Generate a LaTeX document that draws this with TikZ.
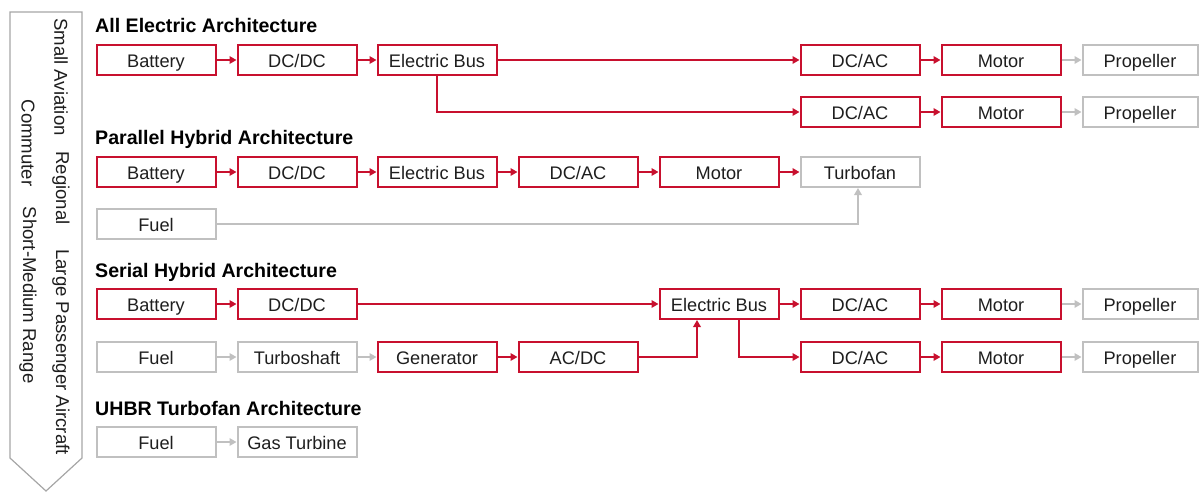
\documentclass[tikz,border=0pt]{standalone}
\usepackage{fontspec}
\setmainfont{Liberation Sans}
\usetikzlibrary{arrows.meta}
\definecolor{myred}{RGB}{200,16,46}
\definecolor{mygray}{RGB}{192,192,192}
\definecolor{edgegray}{RGB}{166,166,166}
\definecolor{txt}{RGB}{30,30,30}
\begin{document}
\begin{tikzpicture}[x=1pt,y=-1pt,
 box/.style={draw, line width=2pt, minimum width=119pt, minimum height=30pt, inner sep=0pt, text height=14.6pt, text depth=0pt, font=\fontsize{18.2}{20}\selectfont, text=txt},
 rbox/.style={box, draw=myred},
 gbox/.style={box, draw=mygray},
 pbox/.style={gbox, minimum width=115pt},
 rarr/.style={draw=myred, line width=2pt, -{Triangle[length=7pt,width=7.5pt]}},
 garr/.style={draw=mygray, line width=2pt, -{Triangle[length=7pt,width=7.5pt]}},
 title/.style={font=\fontsize{19.6}{22}\selectfont\bfseries, anchor=west, inner sep=0pt, text=black},
 side/.style={rotate=-90, font=\fontsize{18.6}{20}\selectfont, text=txt, inner sep=0pt}
]
\useasboundingbox (0,0) rectangle (1199,493);

% left category arrow
\draw[draw=edgegray, line width=1.2pt] (10,12) -- (82,12) -- (82,458) -- (46,491) -- (10,458) -- cycle;
\node[side] (sa) at (61,77) {Small Aviation};
\node[side] (rg) at (61,188) {Regional};
\node[side] (lp) at (61,352) {Large Passenger Aircraft};
\node[side] (cm) at (28,143) {Commuter};
\node[side] (sm) at (28,295) {Short-Medium Range};

% All Electric
\node[title] (t1) at (95,25) {All Electric Architecture};
\node[rbox] (a1) at (156,60) {Battery};
\node[rbox] (a2) at (297,60) {DC/DC};
\node[rbox] (a3) at (437,60) {Electric Bus};
\node[rbox] (a4) at (860,60) {DC/AC};
\node[rbox] (a5) at (1001,60) {Motor};
\node[pbox] (a6) at (1140,60) {Propeller};
\node[rbox] (b4) at (860,112) {DC/AC};
\node[rbox] (b5) at (1001,112) {Motor};
\node[pbox] (b6) at (1140,112) {Propeller};
\draw[rarr] (a1) -- (a2);
\draw[rarr] (a2) -- (a3);
\draw[rarr] (a3) -- (a4);
\draw[rarr] (a4) -- (a5);
\draw[garr] (a5) -- (a6);
\draw[rarr] (a3.south) |- (b4.west);
\draw[rarr] (b4) -- (b5);
\draw[garr] (b5) -- (b6);

% Parallel Hybrid
\node[title] (t2) at (95,139) {Parallel Hybrid Architecture};
\node[rbox] (p1) at (156,172) {Battery};
\node[rbox] (p2) at (297,172) {DC/DC};
\node[rbox] (p3) at (437,172) {Electric Bus};
\node[rbox] (p4) at (578,172) {DC/AC};
\node[rbox] (p5) at (719,172) {Motor};
\node[gbox] (p6) at (860,172) {Turbofan};
\node[gbox] (pf) at (156,224) {Fuel};
\draw[rarr] (p1) -- (p2);
\draw[rarr] (p2) -- (p3);
\draw[rarr] (p3) -- (p4);
\draw[rarr] (p4) -- (p5);
\draw[rarr] (p5) -- (p6);
\draw[garr] (pf.east) -| ([xshift=-2pt]p6.south);

% Serial Hybrid
\node[title] (t3) at (95,272) {Serial Hybrid Architecture};
\node[rbox] (s1) at (156,304) {Battery};
\node[rbox] (s2) at (297,304) {DC/DC};
\node[rbox] (s3) at (719,304) {Electric Bus};
\node[rbox] (s4) at (860,304) {DC/AC};
\node[rbox] (s5) at (1001,304) {Motor};
\node[pbox] (s6) at (1140,304) {Propeller};
\node[gbox] (f1) at (156,357) {Fuel};
\node[gbox] (f2) at (297,357) {Turboshaft};
\node[rbox] (f3) at (437,357) {Generator};
\node[rbox] (f4) at (578,357) {AC/DC};
\node[rbox] (d4) at (860,357) {DC/AC};
\node[rbox] (d5) at (1001,357) {Motor};
\node[pbox] (d6) at (1140,357) {Propeller};
\draw[rarr] (s1) -- (s2);
\draw[rarr] (s2) -- (s3);
\draw[rarr] (s3) -- (s4);
\draw[rarr] (s4) -- (s5);
\draw[garr] (s5) -- (s6);
\draw[garr] (f1) -- (f2);
\draw[garr] (f2) -- (f3);
\draw[rarr] (f3) -- (f4);
\draw[rarr] (f4.east) -| ([xshift=-22pt]s3.south);
\draw[rarr] ([xshift=20pt]s3.south) |- (d4.west);
\draw[rarr] (d4) -- (d5);
\draw[garr] (d5) -- (d6);

% UHBR
\node[title] (t4) at (95,408) {UHBR Turbofan Architecture};
\node[gbox] (u1) at (156,442) {Fuel};
\node[gbox] (u2) at (297,442) {Gas Turbine};
\draw[garr] (u1) -- (u2);
\end{tikzpicture}
\end{document}
